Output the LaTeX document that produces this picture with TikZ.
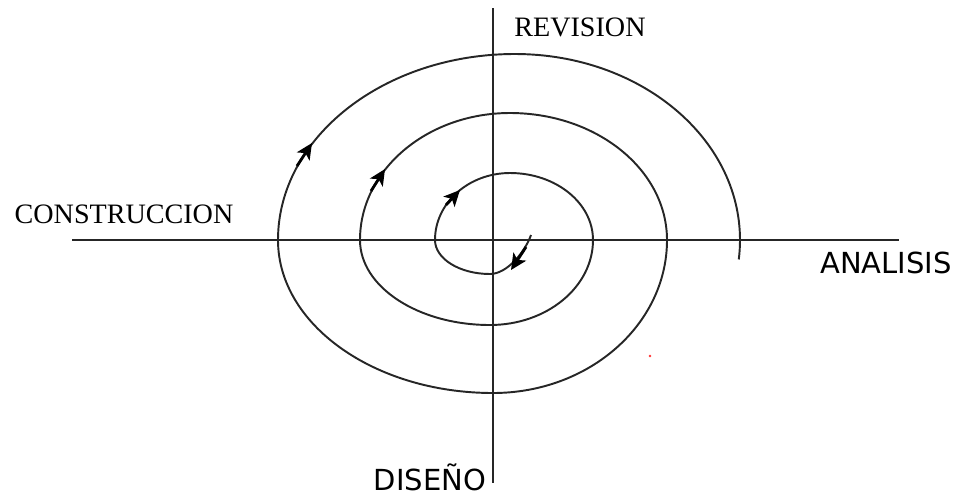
\documentclass[tikz,border=0pt]{standalone}
\usepackage{fontspec}
\usepackage{tikz}
\usetikzlibrary{arrows.meta,positioning}
\newfontfamily\labelserif{Liberation Serif}
\newfontfamily\labelsans{DejaVu Sans}

\begin{document}
\begin{tikzpicture}[
    x=0.02cm, y=-0.02cm,
    axis/.style={draw=black!85, line width=1.1pt},
    spiral/.style={draw=black!85, line width=1.1pt},
    turn/.style={-{Stealth[length=3.2mm, width=3mm, inset=0.8mm]}, line width=1.6pt, black},
    phaseserif/.style={anchor=base, font=\labelserif\fontsize{16}{18}\selectfont},
    phasesans/.style={anchor=base, font=\labelsans\fontsize{16.5}{19}\selectfont}
]
\useasboundingbox (0,0) rectangle (961,495);

% Axes
\coordinate (top) at (493,8);
\coordinate (bottom) at (493,483);
\coordinate (left) at (72,240);
\coordinate (right) at (899,240);
\draw[axis] (top) -- (bottom);
\draw[axis] (left) -- (right);

% Spiral
\coordinate (start) at (531,235);
\draw[spiral] (start) .. controls (525,252) and (507,274) .. (490,274)
    arc[start angle=90, end angle=180, x radius=55, y radius=34]
    arc[start angle=180, end angle=270, x radius=75, y radius=67]
    arc[start angle=270, end angle=360, x radius=83, y radius=67]
    arc[start angle=0, end angle=90, x radius=103, y radius=85]
    arc[start angle=90, end angle=180, x radius=130, y radius=85]
    arc[start angle=180, end angle=270, x radius=150, y radius=127]
    arc[start angle=270, end angle=360, x radius=157, y radius=127]
    arc[start angle=0, end angle=90, x radius=174, y radius=153]
    arc[start angle=90, end angle=180, x radius=215, y radius=153]
    arc[start angle=180, end angle=270, x radius=237, y radius=186]
    arc[start angle=270, end angle=360, x radius=225, y radius=186]
    arc[start angle=0, end angle=6, x radius=225, y radius=186];

% Arrows on the spiral
\coordinate (a1) at (526,247);
\coordinate (b1) at (511,270);
\coordinate (a2) at (446,205);
\coordinate (b2) at (460,190);
\coordinate (a3) at (371,191);
\coordinate (b3) at (385,169);
\coordinate (a4) at (297,166);
\coordinate (b4) at (312,143);
\draw[turn] (a1) -- (b1);
\draw[turn] (a2) -- (b2);
\draw[turn] (a3) -- (b3);
\draw[turn] (a4) -- (b4);

% Labels
\node[phaseserif] (revision) at (580,36) {REVISION};
\node[phaseserif] (construccion) at (124,223) {CONSTRUCCION};
\node[phasesans] (analisis) at (886,273) {ANALISIS};
\node[phasesans] (diseno) at (430,490) {DISEÑO};

% stray dot
\fill[red!80] (650,356) circle[radius=1.3];

\end{tikzpicture}
\end{document}
